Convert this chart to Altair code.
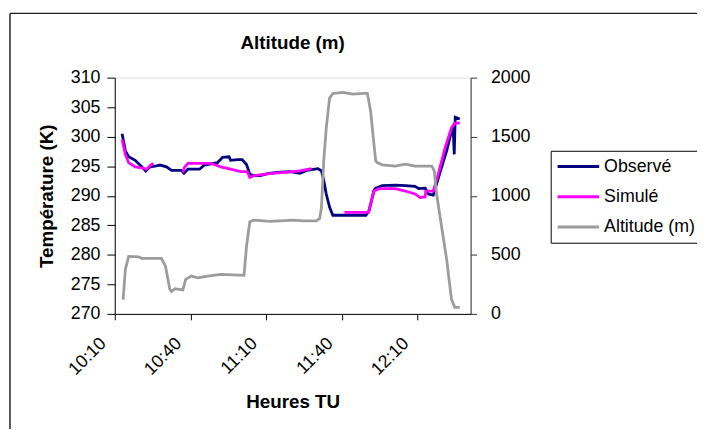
import altair as alt
import pandas as pd

FONT = "Liberation Sans"

series_names = ["Observé", "Simulé", "Altitude (m)"]
series_colors = ["#000080", "#FF00FF", "#9C9C9C"]

x_tick_values = [0, 30, 60, 90, 120]          # minutes after 10:10
x_tick_labels = ["10:10", "10:40", "11:10", "11:40", "12:10"]
y_left_ticks = [270, 275, 280, 285, 290, 295, 300, 305, 310]
y_right_ticks = [0, 500, 1000, 1500, 2000]

# Observé (K)
obs_t = [2.9, 4.2, 5.5, 8.1, 10.7, 12.3, 14.0, 15.9, 17.9, 20.5, 22.5, 26.4, 27.4, 29.0,
         33.6, 35.5, 40.7, 42.7, 45.3, 45.9, 48.6, 50.5, 52.2, 53.5, 55.1, 57.7, 61.0,
         65.5, 69.5, 73.4, 76.0, 80.5, 81.9, 82.8, 83.8, 85.1, 86.4, 91.6, 99.5, 100.8,
         102.7, 103.4, 106.0, 111.2, 115.1, 119.0, 120.4, 123.0, 124.3, 126.2, 127.5,
         129.5, 131.5, 133.4, 134.1, 134.5, 134.9, 136.7]
obs_v = [300.5, 297.6, 296.6, 296.0, 294.9, 294.2, 294.9, 295.0, 295.2, 294.9, 294.3, 294.3,
         293.8, 294.5, 294.5, 295.2, 295.6, 296.5, 296.6, 296.0, 296.1, 296.1, 295.3, 293.7,
         293.4, 293.4, 293.8, 294.0, 294.1, 293.8, 294.3, 294.6, 294.2, 292.6, 290.3, 288.1,
         286.7, 286.7, 286.7, 287.5, 290.9, 291.3, 291.7, 291.8, 291.7, 291.6, 291.2, 291.3,
         290.3, 290.1, 292.0, 294.8, 297.6, 300.9, 301.3, 297.0, 303.3, 303.0]

# Simulé (K), three pieces (gaps in the series)
sim1_t = [2.9, 4.2, 5.5, 8.1, 10.7, 12.7, 14.0, 15.3]
sim1_v = [299.5, 297.0, 295.6, 294.9, 294.7, 294.5, 295.1, 295.5]
sim2_t = [27.0, 27.6, 29.0, 33.0, 38.1, 42.0, 45.9, 49.9, 52.5, 53.5, 55.1, 60.3, 68.1, 73.4, 77.9]
sim2_v = [293.9, 294.8, 295.5, 295.5, 295.5, 294.9, 294.5, 294.1, 294.1, 293.1, 293.4, 293.7,
          294.0, 294.2, 294.6]
sim3_t = [91.0, 100.5, 102.7, 104.7, 111.2, 115.1, 119.0, 121.0, 123.0, 123.2, 126.2, 128.2,
          130.8, 133.4, 134.7, 136.7]
sim3_v = [287.2, 287.2, 290.8, 291.2, 291.2, 290.8, 290.3, 289.7, 289.8, 290.8, 290.8, 293.7,
          298.0, 301.5, 302.3, 302.3]

# Altitude (m)
alt_t = [3.3, 4.2, 5.5, 9.4, 10.7, 18.5, 20.1, 21.8, 22.5, 23.8, 27.0, 28.1, 30.3, 32.9, 36.8,
         42.0, 51.2, 52.2, 53.5, 55.1, 61.6, 70.8, 74.7, 79.9, 81.2, 81.9, 82.8, 83.8, 85.1,
         86.4, 90.3, 94.3, 98.8, 100.1, 101.4, 102.7, 103.4, 104.0, 106.0, 111.2, 115.1,
         119.0, 125.6, 126.6, 127.5, 129.5, 131.5, 133.4, 134.7, 136.7]
alt_v = [120, 376, 487, 482, 470, 470, 404, 209, 189, 214, 203, 292, 320, 306, 320, 334, 326,
         571, 780, 794, 783, 794, 788, 788, 808, 905, 1295, 1574, 1825, 1866, 1875, 1861, 1866,
         1866, 1713, 1435, 1295, 1281, 1262, 1251, 1267, 1251, 1251, 1212, 1017, 738, 460,
         125, 56, 56]

obs_df = pd.DataFrame({"t": obs_t, "v": obs_v, "serie": "Observé", "seg": 0})
sim_df = pd.concat([
    pd.DataFrame({"t": sim1_t, "v": sim1_v, "serie": "Simulé", "seg": 1}),
    pd.DataFrame({"t": sim2_t, "v": sim2_v, "serie": "Simulé", "seg": 2}),
    pd.DataFrame({"t": sim3_t, "v": sim3_v, "serie": "Simulé", "seg": 3}),
], ignore_index=True)
alt_df = pd.DataFrame({"t": alt_t, "v": alt_v, "serie": "Altitude (m)"})

label_expr = "[%s][indexof([%s], datum.value)]" % (
    ",".join("'%s'" % s for s in x_tick_labels),
    ",".join(str(v) for v in x_tick_values),
)

x_enc = alt.X(
    "t:Q",
    scale=alt.Scale(domain=[0, 141], nice=False, zero=False),
    axis=alt.Axis(
        values=x_tick_values, labelExpr=label_expr, title="Heures TU",
        labelAngle=315, labelAlign="right", labelBaseline="middle",
        labelOffset=-12, labelPadding=21, tickSize=6, tickColor="black",
        domainColor="black", labelFontSize=18, labelFont=FONT, labelColor="black",
        titleFontSize=19, titleFont=FONT, titleFontWeight="bold", titleColor="black",
        titlePadding=14, grid=False,
    ),
)

color_enc = alt.Color(
    "serie:N",
    scale=alt.Scale(domain=series_names, range=series_colors),
    legend=alt.Legend(
        title=None, orient="none", legendX=441, legendY=74,
        strokeColor="black", fillColor="white", padding=7,
        symbolType="M-3,0H3", symbolSize=196, symbolStrokeWidth=3, symbolOffset=12,
        labelFontSize=18, labelFont=FONT, labelColor="black", labelOffset=17,
        rowPadding=12.5,
    ),
)

y_left = alt.Y(
    "v:Q",
    scale=alt.Scale(domain=[270, 310], nice=False, zero=False),
    axis=alt.Axis(
        values=y_left_ticks, title="Température (K)", tickSize=8, labelPadding=7,
        tickColor="black", domainColor="black", labelFontSize=18, labelFont=FONT,
        labelColor="black", titleFontSize=19, titleFont=FONT, titleFontWeight="bold",
        titleColor="black", titlePadding=14, grid=False,
    ),
)

y_right = alt.Y(
    "v:Q",
    scale=alt.Scale(domain=[0, 2000], nice=False, zero=False),
    axis=alt.Axis(
        orient="right", values=y_right_ticks, format="d", title=None, tickSize=6,
        labelPadding=14, tickColor="#333333", domainColor="#333333", labelFontSize=18,
        labelFont=FONT, labelColor="black", grid=False,
    ),
)

obs_line = alt.Chart(obs_df).mark_line(strokeWidth=2.8).encode(x=x_enc, y=y_left, color=color_enc)
sim_line = alt.Chart(sim_df).mark_line(strokeWidth=2.8).encode(
    x=x_enc, y=y_left, color=color_enc, detail="seg:N")
temp = alt.layer(obs_line, sim_line)

alt_line = alt.Chart(alt_df).mark_line(strokeWidth=2.8).encode(x=x_enc, y=y_right, color=color_enc)

frame_df = pd.DataFrame({"k": [0]})
frame_h = alt.Chart(frame_df).mark_rule(color="#222222", strokeWidth=1.5).encode(
    x=alt.value(-106), x2=alt.value(700), y=alt.value(-65))
frame_v = alt.Chart(frame_df).mark_rule(color="#222222", strokeWidth=1.5).encode(
    x=alt.value(-106), y=alt.value(-65), y2=alt.value(400))

chart = alt.layer(temp, alt_line, frame_h, frame_v).resolve_scale(
    y="independent"
).properties(
    width=360, height=239,
    title=alt.TitleParams("Altitude (m)", fontSize=19, font=FONT, fontWeight="bold",
                          color="black", anchor="middle", frame="group", offset=-41),
    autosize=alt.AutoSizeParams(type="none"),
    padding={"left": 108, "top": 68, "right": 229, "bottom": 114},
).configure_view(stroke="#808080", strokeWidth=1).configure(background="white")

chart.save("out.html", embed_options={"renderer": "svg", "actions": False})
